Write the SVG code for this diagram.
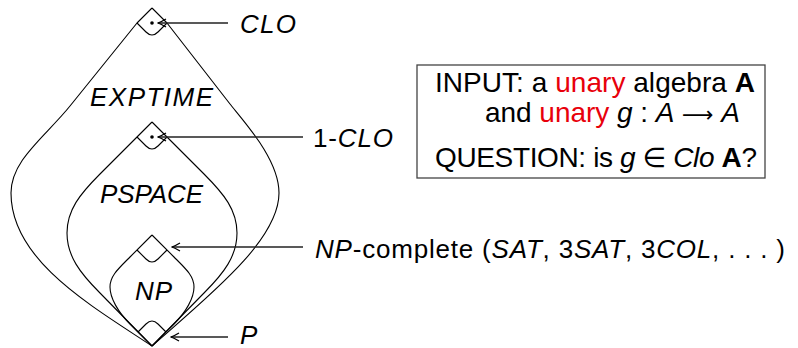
<svg xmlns="http://www.w3.org/2000/svg" width="798" height="348" viewBox="0 0 798 348">
<style>
.sh{fill:none;stroke:#000;stroke-width:1.1;stroke-linejoin:round}
.ar{fill:none;stroke:#222;stroke-width:1.6}
.t{font-family:"Liberation Sans",Arial,sans-serif;font-size:26px;fill:#000}
.b{font-family:"Liberation Sans",Arial,sans-serif;font-size:28px;fill:#000}
.i{font-style:italic}
.bd{font-weight:bold}
.red{fill:#e8000b}
.sym{font-family:"DejaVu Sans",sans-serif;font-size:22px}
.el{font-family:"DejaVu Sans",sans-serif;font-size:27px}
</style>
<defs>
<marker id="to" viewBox="0 0 10 10" refX="9" refY="5" markerWidth="10" markerHeight="10" markerUnits="userSpaceOnUse" orient="auto">
<path d="M1,1 Q6,4 9,5 Q6,6 1,9" fill="none" stroke="#000" stroke-width="1.3"/>
</marker>
</defs>
<g id="exptime">
<path class="sh" d="M152,8 L137,23 L70,106 C45,137 11,160 11,193 C11,260 90,305 152,346"/>
<path class="sh" d="M152,8 L167,23 L230,104 C246,124 279,160 279,193 C279,240 210,295 152,346"/>
<path class="sh" d="M137,23 L146,32 Q152,38 158,32 L167,23"/>
<circle cx="152" cy="23" r="1.8" fill="#000"/>
<text class="t i" x="90" y="106" textLength="123">EXPTIME</text>
</g>
<g id="pspace">
<path class="sh" d="M152,122 L100,174 C80,194 67,210 67,233 C67,256 80,273 100,293 L152,346"/>
<path class="sh" d="M152,122 L204,174 C224,194 237,210 237,233 C237,256 224,273 204,293 L152,346"/>
<path class="sh" d="M137,137 L146,146 Q152,152 158,146 L167,137"/>
<circle cx="152" cy="137" r="1.8" fill="#000"/>
<text class="t i" x="100" y="203" textLength="103">PSPACE</text>
</g>
<g id="np">
<path class="sh" d="M152,235 L130,257 C118,269 110,276 110,287 C110,298 118,312 130,324 L152,346"/>
<path class="sh" d="M152,235 L174,257 C186,269 194,276 194,287 C194,298 186,312 174,324 L152,346"/>
<path class="sh" d="M137,250 L146,259 Q152,265 158,259 L167,250"/>
<text class="t i" x="135" y="300" textLength="37">NP</text>
</g>
<g id="p">
<path class="sh" d="M138,332 L146,324 Q152,318 158,324 L166,332"/>
</g>
<g id="labels">
<text class="t i" x="240" y="33" textLength="56">CLO</text>
<text class="t" x="313" y="147" textLength="80">1-<tspan class="i">CLO</tspan></text>
<text class="t" x="315" y="258" textLength="470"><tspan class="i">NP</tspan>-complete (<tspan class="i">SAT</tspan>, 3<tspan class="i">SAT</tspan>, 3<tspan class="i">COL</tspan>, . . . )</text>
<text class="t i" x="240" y="344" textLength="17">P</text>
</g>
<g id="connectors">
<line class="ar" x1="228" y1="23" x2="158" y2="23" marker-end="url(#to)"/>
<line class="ar" x1="303" y1="137" x2="158" y2="137" marker-end="url(#to)"/>
<line class="ar" x1="303" y1="247" x2="172" y2="247" marker-end="url(#to)"/>
<line class="ar" x1="228" y1="337" x2="171" y2="337" marker-end="url(#to)"/>
</g>
<g id="box">
<rect x="417" y="65" width="348" height="113" fill="none" stroke="#444" stroke-width="1.3"/>
<text class="b" x="435" y="92" textLength="320">INPUT: a <tspan class="red">unary</tspan> algebra <tspan class="bd">A</tspan></text>
<text class="b" x="485" y="122" textLength="255">and <tspan class="red">unary</tspan> <tspan class="i">g</tspan> : <tspan class="i">A</tspan> <tspan class="sym">⟶</tspan> <tspan class="i">A</tspan></text>
<text class="b" x="435" y="167" textLength="322">QUESTION: is <tspan class="i">g</tspan> <tspan class="el">∈</tspan> <tspan class="i">Clo</tspan> <tspan class="bd">A</tspan>?</text>
</g>
</svg>
